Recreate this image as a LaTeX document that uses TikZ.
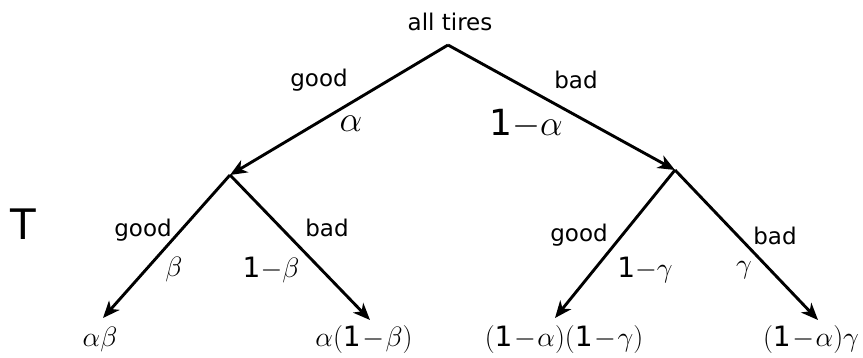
\RequirePackage{fix-cm}
\documentclass[tikz,border=0pt]{standalone}
\usepackage{amsmath}
\usepackage{fontspec}
\setmainfont{DejaVu Sans}
\usetikzlibrary{arrows.meta,positioning}

\newcommand{\one}{\text{1}}
\newcommand{\tightmath}{\medmuskip=1mu\relax}

\tikzset{
  branch/.style={-{Stealth[length=17pt,width=14pt,inset=5pt]}, line width=2.9pt},
  word/.style={font=\fontsize{23}{25}\selectfont, inner sep=0pt},
  prob/.style={font=\fontsize{36}{38}\selectfont, inner sep=0pt},
  leaf/.style={font=\fontsize{28}{30}\selectfont, inner sep=0pt}
}

\begin{document}
\begin{tikzpicture}[x=1pt,y=-1pt]
  \useasboundingbox (0,0) rectangle (863,358);

  % tree points
  \node[word] (root) at (450,22) {all tires};
  \coordinate (top) at (448,45);
  \coordinate (gd) at (230,175);
  \coordinate (bd) at (675,170);
  \coordinate (gdgd) at (103,318);
  \coordinate (gdbd) at (370,320);
  \coordinate (bdgd) at (555,318);
  \coordinate (bdbd) at (818,320);

  % branches
  \draw[branch] (top) -- (gd);
  \draw[branch] (top) -- (bd);
  \draw[branch] (gd) -- (gdgd);
  \draw[branch] (gd) -- (gdbd);
  \draw[branch] (bd) -- (bdgd);
  \draw[branch] (bd) -- (bdbd);

  % first level labels
  \node[word] (g1) at (319,80) {good};
  \node[word] (b1) at (576,80) {bad};
  \node[prob] (a1) at (351,124) {$\alpha$};
  \node[prob] (a2) at (526,124) {\one$-\alpha$};
  \node[font=\fontsize{42}{44}\selectfont, inner sep=0pt] (T) at (23,224) {T};

  % second level labels
  \node[word] (g2) at (143,230) {good};
  \node[word] (b2) at (327,228) {bad};
  \node[leaf] (p1) at (174,270) {$\beta$};
  \node[leaf] (p2) at (271,270) {\one$-\beta$};
  \node[word] (g3) at (579,235) {good};
  \node[word] (b3) at (775,236) {bad};
  \node[leaf] (p3) at (645,270) {\one$-\gamma$};
  \node[leaf] (p4) at (744,270) {$\gamma$};

  % leaves
  \node[leaf] (l1) at (100,340) {$\alpha\beta$};
  \node[leaf] (l2) at (364,340) {\tightmath$\alpha(\one-\beta)$};
  \node[leaf] (l3) at (564,340) {\tightmath$(\one-\alpha)(\one-\gamma)$};
  \node[leaf] (l4) at (811,340) {\tightmath$(\one-\alpha)\gamma$};
\end{tikzpicture}
\end{document}
